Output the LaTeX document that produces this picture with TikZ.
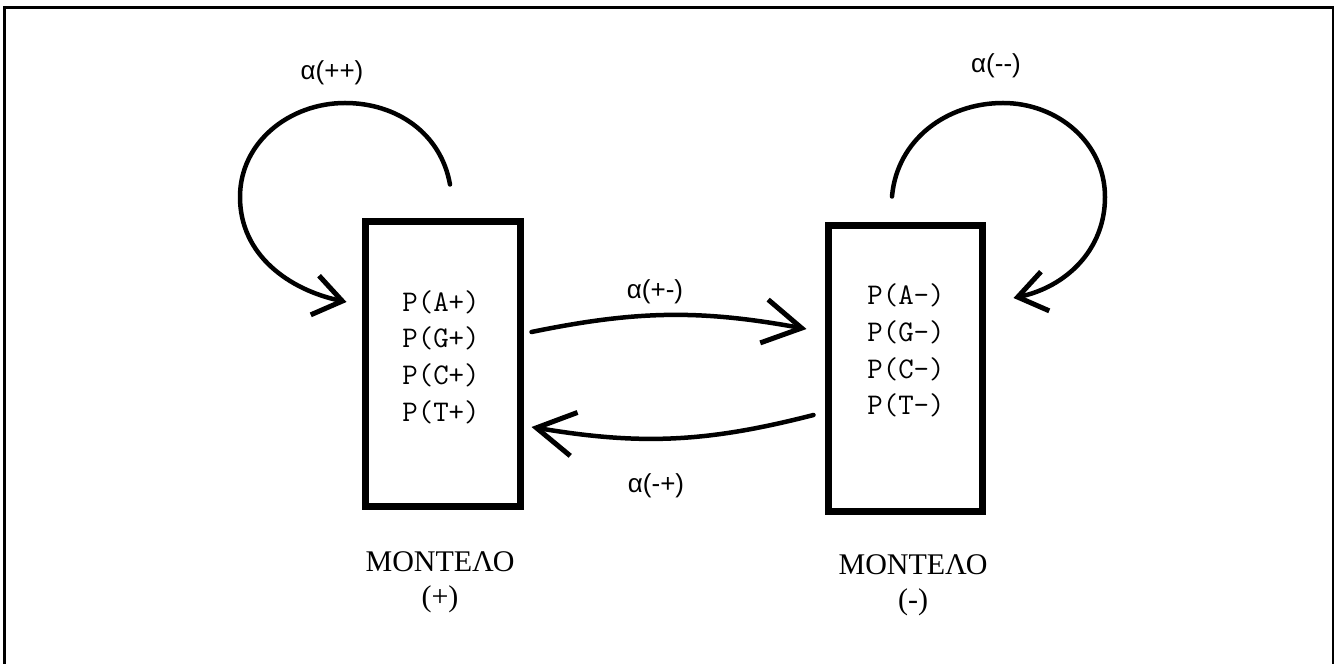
\documentclass[tikz,border=0pt]{standalone}
\usepackage{fontspec}
\setmainfont{Liberation Serif}
\newfontfamily\labelfont{Liberation Sans}
\usetikzlibrary{arrows.meta}

\tikzset{
  modelbox/.style={draw, line width=7pt, rectangle, inner sep=0pt},
  probtext/.style={align=center, inner sep=0pt,
    font=\ttfamily\fontsize{30}{36.7}\selectfont},
  rate/.style={inner sep=0pt, font=\labelfont\fontsize{26}{30}\selectfont},
  modelname/.style={align=center, inner sep=0pt,
    font=\fontsize{30}{35}\selectfont},
  looparrow/.style={line width=4.5pt, line cap=round,
    -{Straight Barb[length=28pt, width=40pt, line width=5pt]}},
  swaparrow/.style={line width=4.5pt, line cap=round,
    -{Straight Barb[length=38pt, width=44pt, line width=5pt]}},
}

\begin{document}
\begin{tikzpicture}[x=1pt, y=1pt]
\useasboundingbox (0,0) rectangle (1334,664);
\clip (0,0) rectangle (1334,664);

% outer frame (its lower edge lies below the page)
\draw[line width=3pt] (4,-20) |- (1333,656) -- (1333,-20);

% the two models
\node[modelbox, minimum width=155pt, minimum height=285pt] (L) at (443,300) {};
\node[modelbox, minimum width=154pt, minimum height=286pt] (R) at (905.5,295.5) {};

\node[probtext] (Lp) at (441,307) {P(A+)\\P(G+)\\P(C+)\\P(T+)};
\node[probtext] (Rp) at (906,313.5) {P(A-)\\P(G-)\\P(C-)\\P(T-)};

\node[modelname] (Ln) at (440,82) {ΜΟΝΤΕΛΟ\\(+)};
\node[modelname] (Rn) at (913,79) {ΜΟΝΤΕΛΟ\\(-)};

% self transitions
\draw[looparrow] ([shift={(7,33.5)}]L.north)
  to[out=100, in=0] (345,561)
  to[out=180, in=90] (240,467)
  to[out=-90, in=168] ([shift={(-15.5,62)}]L.west);
\draw[looparrow] ([shift={(-13.5,25.5)}]R.north)
  to[out=85, in=180] (1003,561)
  to[out=0, in=90] (1105,467)
  to[out=-90, in=12] ([shift={(27.5,70.5)}]R.east);

% transitions between the models
\draw[swaparrow] ([shift={(7.5,32)}]L.east)
  to[bend left=11] ([shift={(-18.5,39.5)}]R.west);
\draw[swaparrow] ([shift={(-11.5,-46.5)}]R.west)
  to[bend left=12] ([shift={(7.5,-63)}]L.east);

% transition probabilities
\node[rate] (app) at (332,591) {α(++)};
\node[rate] (amm) at (996,598) {α(--)};
\node[rate] (apm) at (655,372) {α(+-)};
\node[rate] (amp) at (656,178) {α(-+)};
\end{tikzpicture}
\end{document}
